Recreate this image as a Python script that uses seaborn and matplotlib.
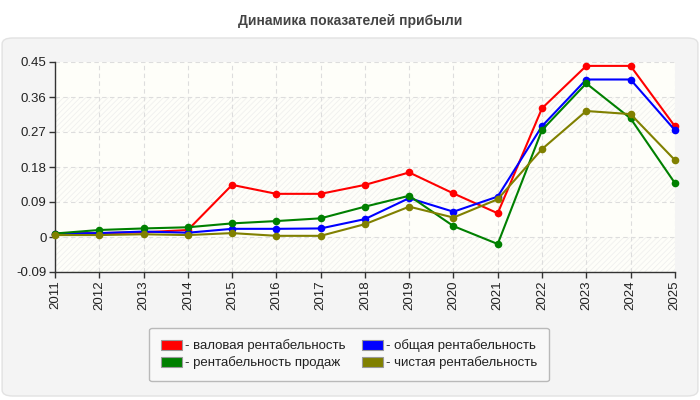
import pandas as pd
import matplotlib.pyplot as plt
import seaborn as sns
from matplotlib.patches import FancyBboxPatch, Patch

years = list(range(2011, 2026))
gross = [0.009, 0.010, 0.012, 0.018, 0.134, 0.111, 0.111, 0.134, 0.166, 0.112, 0.061, 0.331, 0.440, 0.440, 0.285]
total = [0.009, 0.010, 0.014, 0.011, 0.021, 0.021, 0.022, 0.046, 0.100, 0.065, 0.104, 0.285, 0.405, 0.405, 0.275]
sales = [0.009, 0.018, 0.022, 0.025, 0.035, 0.041, 0.048, 0.078, 0.106, 0.028, -0.018, 0.275, 0.395, 0.305, 0.139]
net = [0.005, 0.005, 0.007, 0.005, 0.010, 0.003, 0.003, 0.033, 0.078, 0.050, 0.097, 0.226, 0.324, 0.316, 0.198]

names = ['валовая рентабельность', 'общая рентабельность',
         'рентабельность продаж', 'чистая рентабельность']
colors = {names[0]: '#ff0000', names[1]: '#0000ff', names[2]: '#008000', names[3]: '#808000'}
yticks = [-0.09, 0, 0.09, 0.18, 0.27, 0.36, 0.45]
ylabels = ['-0.09', '0', '0.09', '0.18', '0.27', '0.36', '0.45']

frames = []
for name, vals in zip(names, [gross, total, sales, net]):
    frames.append(pd.DataFrame({'year': years, 'value': vals, 'series': name}))
data = pd.concat(frames, ignore_index=True)

sns.set_style('white')
plt.rcParams['font.family'] = ['Liberation Sans', 'DejaVu Sans']
plt.rcParams['hatch.linewidth'] = 0.6

fig = plt.figure(figsize=(7, 4), dpi=100)
fig.patch.set_facecolor('white')

# rounded grey panel behind the chart
panel = FancyBboxPatch((0.003, 0.01), 0.994, 0.895, boxstyle='round,pad=0,rounding_size=0.015',
                       transform=fig.transFigure, facecolor='#f4f4f4', edgecolor='#e2e2e2',
                       linewidth=1, zorder=-10)
fig.patches.append(panel)

fig.text(0.5, 0.948, 'Динамика показателей прибыли', ha='center', va='center',
         fontsize=10, fontweight='bold', color='#444444')

ax = fig.add_axes([0.0786, 0.32, 0.8854, 0.525])
ax.set_zorder(1)
ax.set_facecolor('#fefef9')

# faint hatched bands
for lo in [-0.09, 0.09, 0.27]:
    ax.axhspan(lo, lo + 0.09, facecolor='none', edgecolor='#f0f0ee', hatch='//////',
               linewidth=0, zorder=0)

sns.lineplot(data=data, x='year', y='value', hue='series', hue_order=names,
             palette=colors, marker='o', markersize=5.5, markeredgewidth=0,
             linewidth=1.5, ax=ax, legend=False, zorder=3, clip_on=False)

ax.set_xlim(2011, 2025)
ax.set_ylim(-0.09, 0.45)
ax.set_xticks(years)
ax.set_xticklabels([str(y) for y in years], rotation=90, fontsize=9.5, color='#222222')
ax.set_yticks(yticks)
ax.set_yticklabels(ylabels, fontsize=9.5, color='#222222')
ax.set_xlabel('')
ax.set_ylabel('')
ax.grid(True, color='#dddddd', linestyle=(0, (4, 3)), linewidth=0.8)
ax.set_axisbelow(True)
for s in ['top', 'right']:
    ax.spines[s].set_visible(False)
for s in ['left', 'bottom']:
    ax.spines[s].set_color('#333333')
    ax.spines[s].set_linewidth(1)
ax.tick_params(axis='both', which='both', length=4, width=1, color='#333333', pad=2,
               left=True, bottom=True)

handles = [Patch(facecolor=colors[n], edgecolor='#999999', linewidth=0.8) for n in names]
labels = ['- ' + n for n in names]
# order so columns read: col1 = gross, sales; col2 = total, net
order = [0, 2, 1, 3]
leg = fig.legend([handles[i] for i in order], [labels[i] for i in order], ncol=2,
                 loc='center', bbox_to_anchor=(0.4986, 0.114), fontsize=9.5,
                 frameon=True, fancybox=True, handlelength=1.6, handleheight=0.8,
                 handletextpad=0.2, columnspacing=1.3, labelspacing=0.3,
                 borderpad=0.9, labelcolor='#222222')
leg.get_frame().set_facecolor('#fafafa')
leg.get_frame().set_edgecolor('#aaaaaa')
leg.get_frame().set_linewidth(1)

fig.savefig('out.png', dpi=100)
